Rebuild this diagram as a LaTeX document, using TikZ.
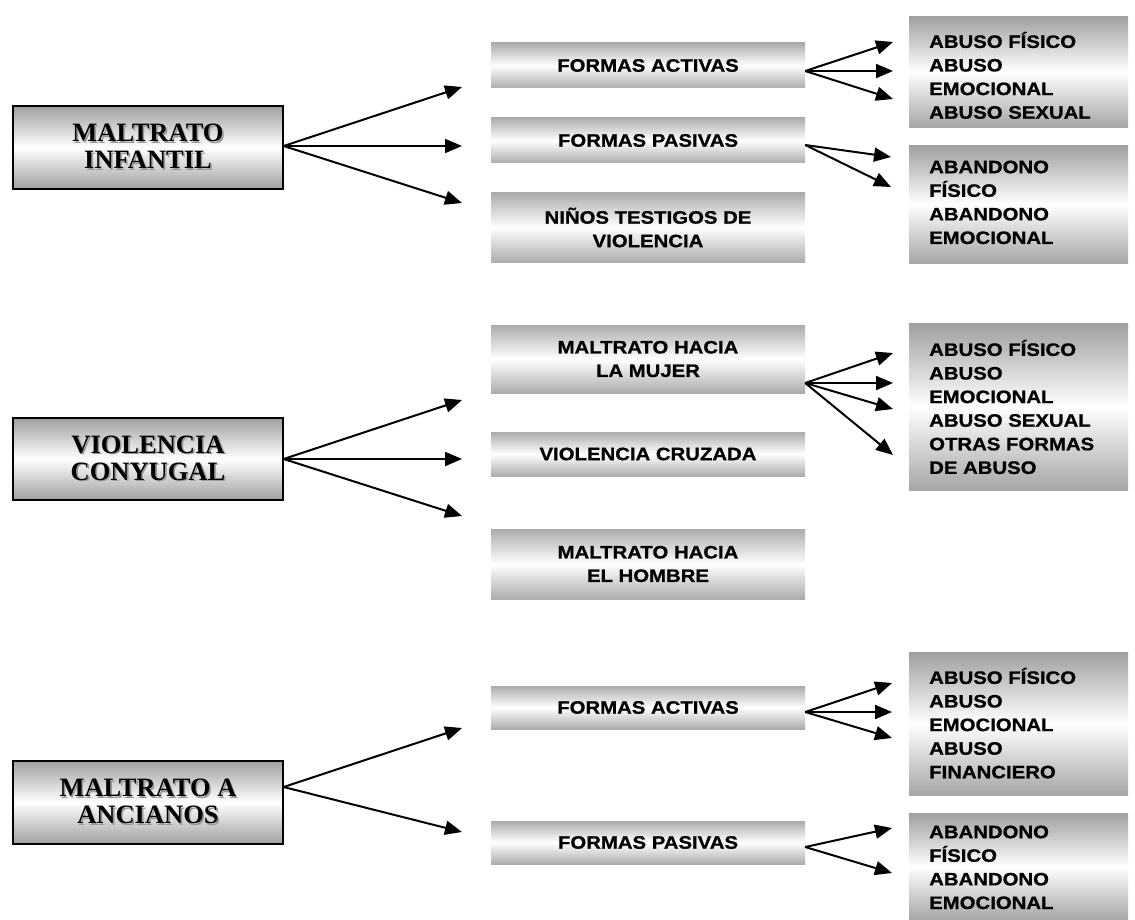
\documentclass[tikz,border=0pt]{standalone}
\usepackage{fontspec}
\setmainfont{Liberation Serif}
\newfontfamily\sansb[FakeStretch=1.13,FakeBold=0.9]{Liberation Sans Bold}
\usetikzlibrary{arrows.meta}
\newcommand\shd[1]{\leavevmode\rlap{\hspace{1.6pt}\raisebox{-1.6pt}{\color{black!40}#1}}#1}
\tikzset{
  leftbox/.style={draw=black, line width=1.3pt, top color=gray!75, bottom color=gray!75, middle color=white,
    minimum width=270pt, minimum height=83pt, inner sep=0pt, align=center,
    font=\bfseries\fontsize{26.5}{27}\selectfont},
  midbox/.style={top color=gray!65, bottom color=gray!65, middle color=white,
    minimum width=314pt, inner sep=0pt, align=center,
    font=\sansb\fontsize{18}{23.5}\selectfont},
  rightbox/.style={top color=gray!75, bottom color=gray!70, middle color=white,
    minimum width=219pt, inner sep=0pt, anchor=north west},
  rtext/.style={align=left, inner sep=0pt, anchor=west,
    font=\sansb\fontsize{18}{23.6}\selectfont},
  arr/.style={line width=2pt, -{Triangle[length=17pt,width=14pt]}}
}
\begin{document}
\begin{tikzpicture}[x=1pt,y=-1pt]
\fill[white] (0,0) rectangle (1135,920);
\useasboundingbox (0,0) rectangle (1135,920);

% left boxes
\node[leftbox] (mi) at (148,147.5) {\shd{MALTRATO}\\\shd{INFANTIL}};
\node[leftbox, minimum height=82pt] (vcg) at (148,459) {\shd{VIOLENCIA}\\\shd{CONYUGAL}};
\node[leftbox] (ma) at (148,802.5) {\shd{MALTRATO A}\\\shd{ANCIANOS}};

% middle boxes
\node[midbox, minimum height=45pt] (fa1) at (648,65.5) {FORMAS ACTIVAS};
\node[midbox, minimum height=45pt] (fp1) at (648,140.5) {FORMAS PASIVAS};
\node[midbox, minimum height=69pt] (nt1) at (648,227.5) {NIÑOS TESTIGOS DE\\VIOLENCIA};
\node[midbox, minimum height=68pt] (mm) at (648,359) {MALTRATO HACIA\\LA MUJER};
\node[midbox, minimum height=44pt] (vc) at (648,454) {VIOLENCIA CRUZADA};
\node[midbox, minimum height=70pt] (mh) at (648,564) {MALTRATO HACIA\\EL HOMBRE};
\node[midbox, minimum height=43pt] (fa3) at (648,707.5) {FORMAS ACTIVAS};
\node[midbox, minimum height=43pt] (fp3) at (648,842.5) {FORMAS PASIVAS};

% right boxes
\node[rightbox, minimum height=111pt] (r1) at (909,16) {};
\node[rightbox, minimum height=118pt] (r2) at (909,145) {};
\node[rightbox, minimum height=167pt] (r3) at (909,323) {};
\node[rightbox, minimum height=143pt] (r4) at (909,652) {};
\node[rightbox, minimum height=107pt] (r5) at (909,813) {};
\node[rtext] (t1) at (929,75.4) {ABUSO FÍSICO\\ABUSO\\EMOCIONAL\\ABUSO SEXUAL};
\node[rtext] (t2) at (929,202.4) {ABANDONO\\FÍSICO\\ABANDONO\\EMOCIONAL};
\node[rtext] (t3) at (929,407) {ABUSO FÍSICO\\ABUSO\\EMOCIONAL\\ABUSO SEXUAL\\OTRAS FORMAS\\DE ABUSO};
\node[rtext] (t4) at (929,723.2) {ABUSO FÍSICO\\ABUSO\\EMOCIONAL\\ABUSO\\FINANCIERO};
\node[rtext] (t5) at (929,867.4) {ABANDONO\\FÍSICO\\ABANDONO\\EMOCIONAL};

% arrow tip coordinates
\coordinate (a1) at (462,87);  \coordinate (a2) at (462,146); \coordinate (a3) at (462,203);
\coordinate (b1) at (462,400); \coordinate (b2) at (462,459); \coordinate (b3) at (462,516);
\coordinate (c1) at (462,728); \coordinate (c2) at (462,832);
\coordinate (d1) at (893,42);  \coordinate (d2) at (893,71);  \coordinate (d3) at (893,99);
\coordinate (e1) at (891,157); \coordinate (e2) at (891,187);
\coordinate (f1) at (893,353); \coordinate (f2) at (893,383); \coordinate (f3) at (893,409); \coordinate (f4) at (893,455);
\coordinate (g1) at (892,683); \coordinate (g2) at (892,712); \coordinate (g3) at (892,738);
\coordinate (h1) at (892,828); \coordinate (h2) at (892,873);

% connectors
\foreach \t in {a1,a2,a3} \draw[arr] ([yshift=1.5pt]mi.east) -- (\t);
\foreach \t in {b1,b2,b3} \draw[arr] (vcg.east) -- (\t);
\foreach \t in {c1,c2} \draw[arr] ([yshift=15.5pt]ma.east) -- (\t);
\foreach \t in {d1,d2,d3} \draw[arr] ([yshift=-5.5pt]fa1.east) -- (\t);
\foreach \t in {e1,e2} \draw[arr] ([yshift=-4.5pt]fp1.east) -- (\t);
\foreach \t in {f1,f2,f3,f4} \draw[arr] ([yshift=-24pt]mm.east) -- (\t);
\foreach \t in {g1,g2,g3} \draw[arr] ([yshift=-4.5pt]fa3.east) -- (\t);
\foreach \t in {h1,h2} \draw[arr] ([yshift=-4.5pt]fp3.east) -- (\t);
\end{tikzpicture}
\end{document}
